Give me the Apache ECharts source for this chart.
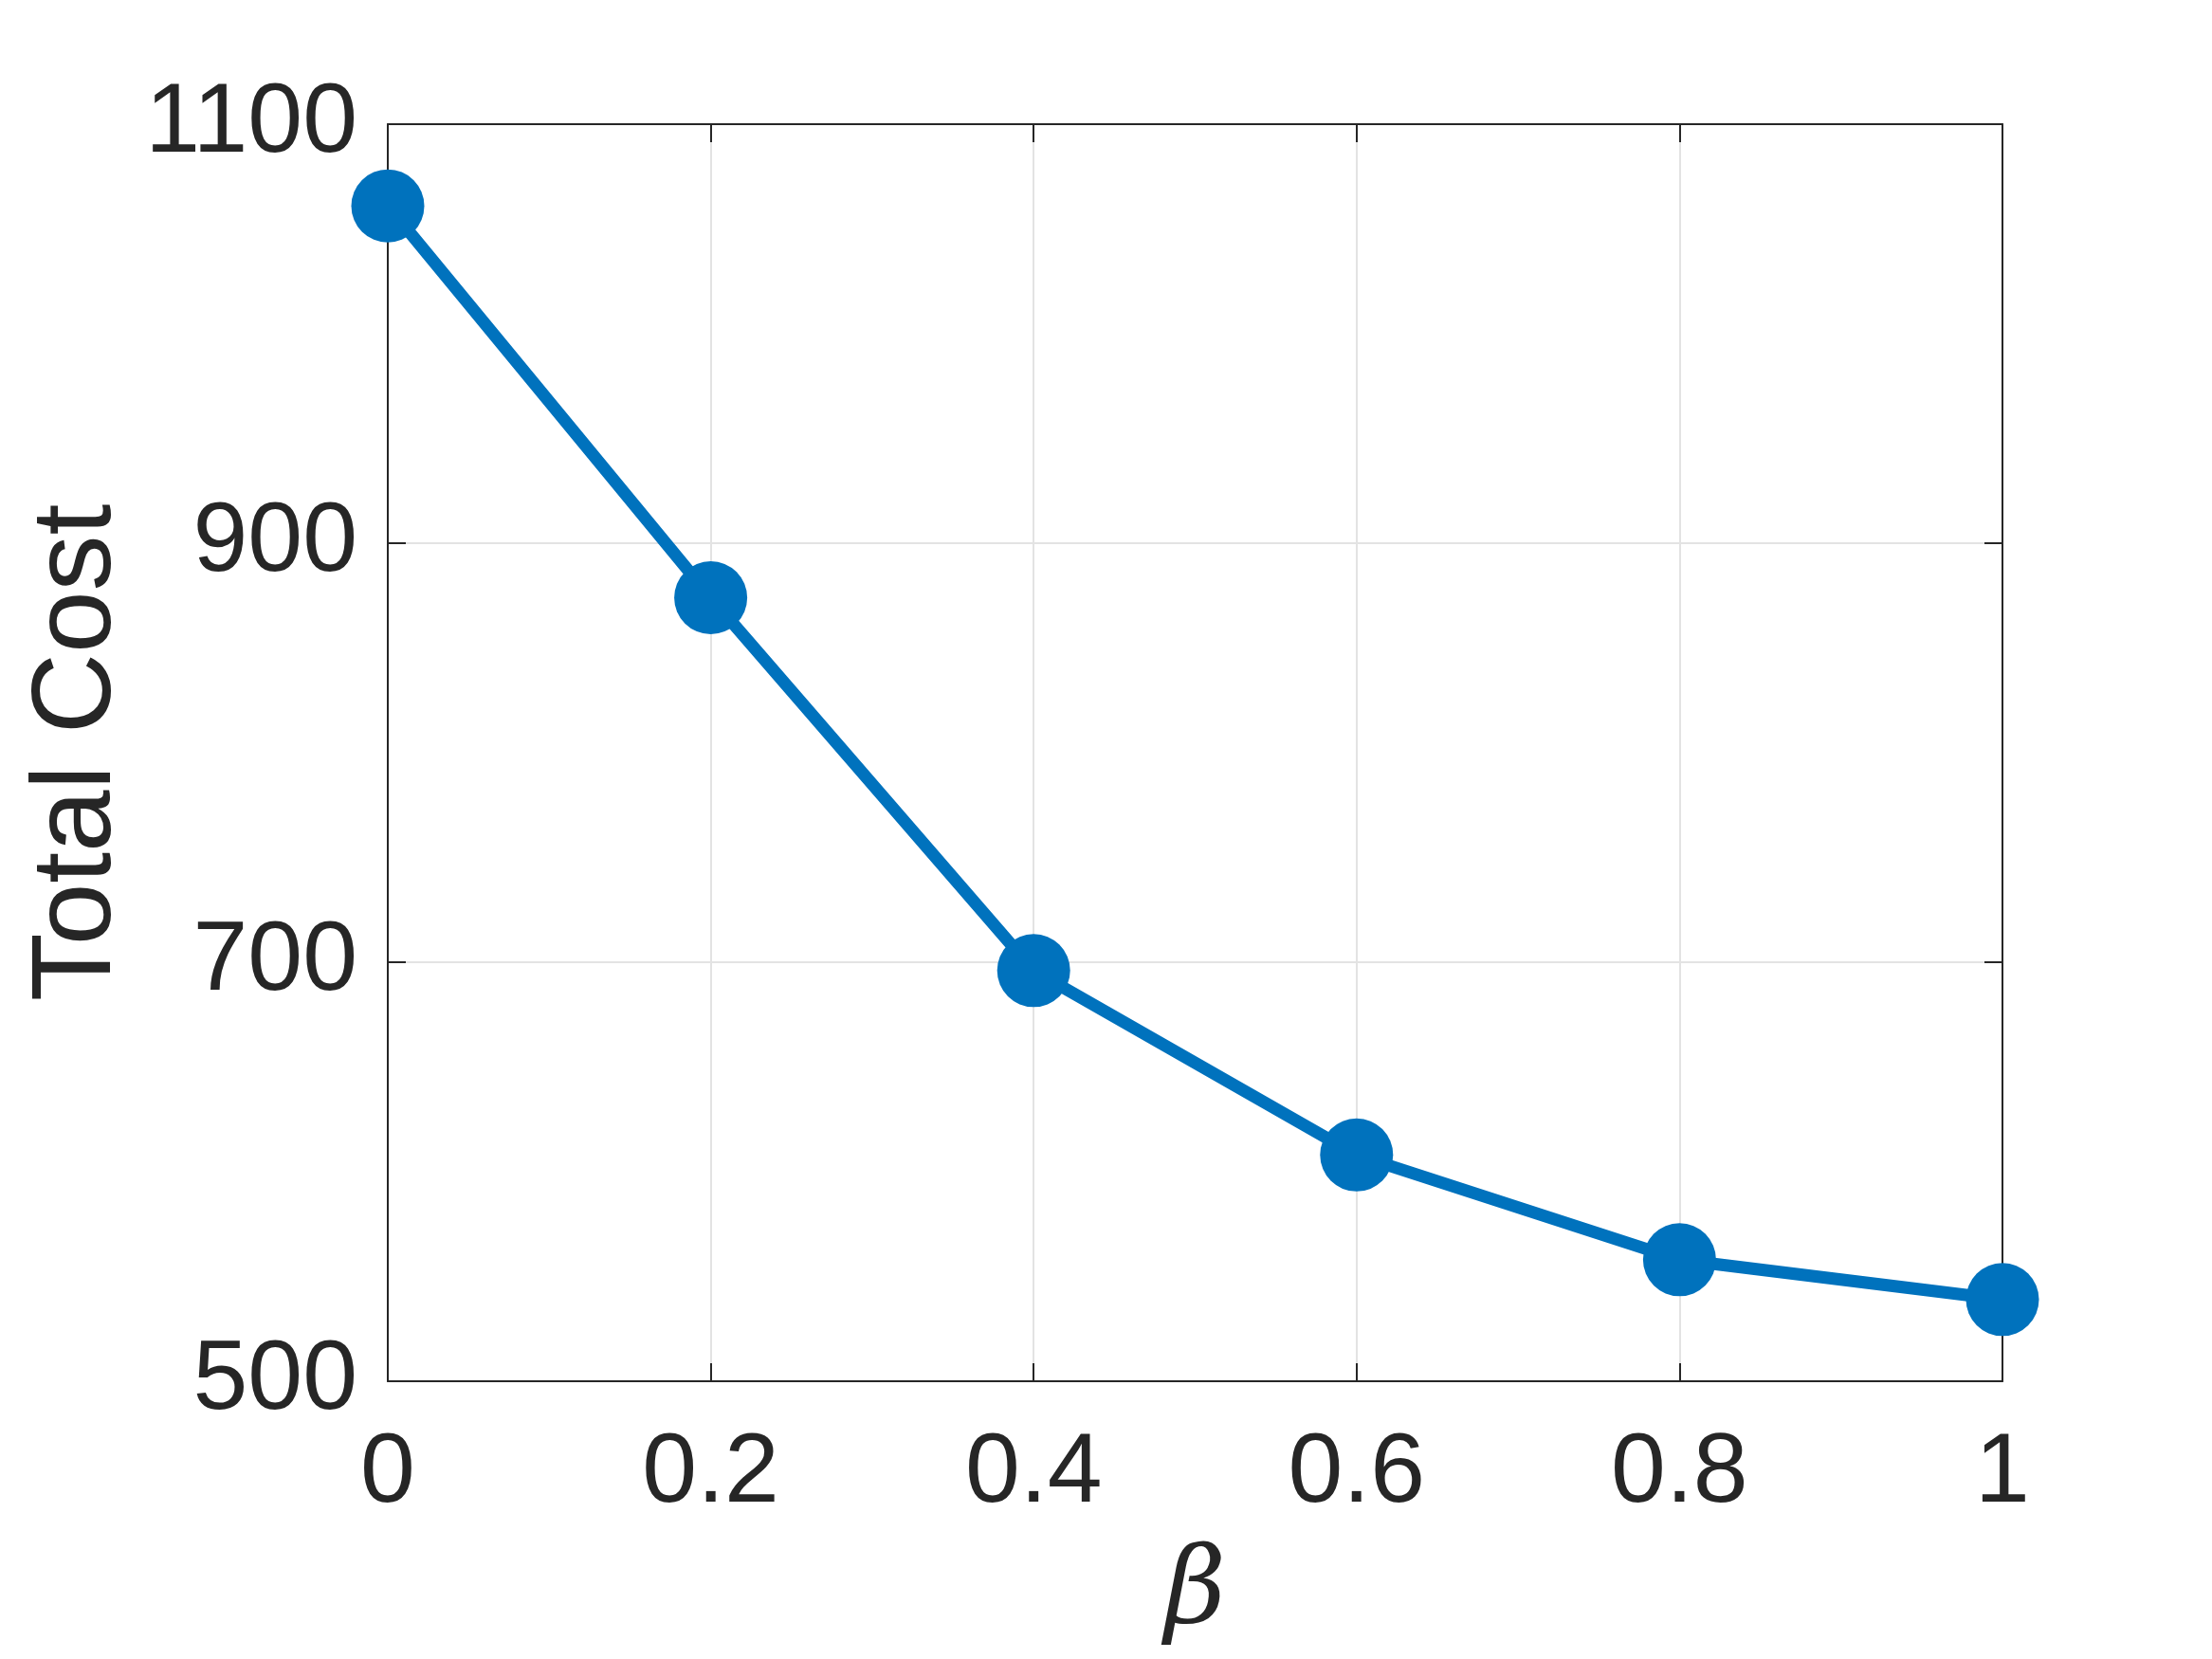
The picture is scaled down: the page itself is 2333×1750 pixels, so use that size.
<!DOCTYPE html>
<html>
<head>
<meta charset="utf-8">
<script src="https://cdn.jsdelivr.net/npm/echarts@6/dist/echarts.min.js"></script>
<style>
  html, body { margin: 0; padding: 0; background: #fff; }
  #chart { width: 2333px; height: 1750px; }
</style>
</head>
<body>
<div id="chart"></div>
<script>
  // values
  const betaValues = [0, 0.2, 0.4, 0.6, 0.8, 1];
  const totalCost = [1061, 874, 696, 608, 558, 539];
  const yTicks = [500, 700, 900, 1100];

  const axisColor = '#262626';
  const lineBlue = '#0072BD';

  const chart = echarts.init(document.getElementById('chart'));

  const points = betaValues.map((b, i) => [b, totalCost[i]]);

  chart.setOption({
    animation: false,
    backgroundColor: '#ffffff',
    grid: {
      left: 409,
      right: 221,
      top: 131,
      bottom: 293,
      containLabel: false,
      outerBoundsMode: 'none'
    },
    xAxis: [
      {
        type: 'value',
        min: 0,
        max: 1,
        interval: 0.2,
        name: 'β',
        nameLocation: 'middle',
        nameGap: 170,
        nameTextStyle: {
          fontFamily: 'DejaVu Serif',
          fontStyle: 'italic',
          fontSize: 112,
          color: axisColor
        },
        axisLine: { show: true, onZero: false, lineStyle: { color: axisColor, width: 2 } },
        axisTick: { show: true, inside: true, length: 19, lineStyle: { color: axisColor, width: 2 } },
        axisLabel: {
          margin: 46,
          fontFamily: 'Liberation Sans',
          fontSize: 104,
          color: axisColor,
          formatter: v => String(v)
        },
        splitLine: { show: true, lineStyle: { color: '#e3e3e3', width: 2 } }
      },
      {
        // top edge of the box
        type: 'value',
        position: 'top',
        min: 0,
        max: 1,
        interval: 0.2,
        axisLine: { show: true, onZero: false, lineStyle: { color: axisColor, width: 2 } },
        axisTick: { show: true, inside: true, length: 19, lineStyle: { color: axisColor, width: 2 } },
        axisLabel: { show: false },
        splitLine: { show: false }
      }
    ],
    yAxis: [
      {
        type: 'value',
        min: yTicks[0],
        max: yTicks[yTicks.length - 1],
        interval: 200,
        name: 'Total Cost',
        nameLocation: 'middle',
        nameGap: 265,
        nameTextStyle: {
          fontFamily: 'Liberation Sans',
          fontSize: 118,
          color: axisColor
        },
        axisLine: { show: true, onZero: false, lineStyle: { color: axisColor, width: 2 } },
        axisTick: { show: true, inside: true, length: 19, lineStyle: { color: axisColor, width: 2 } },
        axisLabel: {
          margin: 32,
          fontFamily: 'Liberation Sans',
          fontSize: 104,
          color: axisColor,
          padding: [12, 0, 0, 0],
          formatter: v => String(v)
        },
        splitLine: { show: true, lineStyle: { color: '#e3e3e3', width: 2 } }
      },
      {
        // right edge of the box
        type: 'value',
        position: 'right',
        min: yTicks[0],
        max: yTicks[yTicks.length - 1],
        interval: 200,
        axisLine: { show: true, onZero: false, lineStyle: { color: axisColor, width: 2 } },
        axisTick: { show: true, inside: true, length: 19, lineStyle: { color: axisColor, width: 2 } },
        axisLabel: { show: false },
        splitLine: { show: false }
      }
    ],
    series: [
      {
        type: 'line',
        data: points,
        symbol: 'circle',
        symbolSize: 77,
        lineStyle: { color: lineBlue, width: 13 },
        itemStyle: { color: lineBlue },
        z: 5
      }
    ]
  });
</script>
</body>
</html>
